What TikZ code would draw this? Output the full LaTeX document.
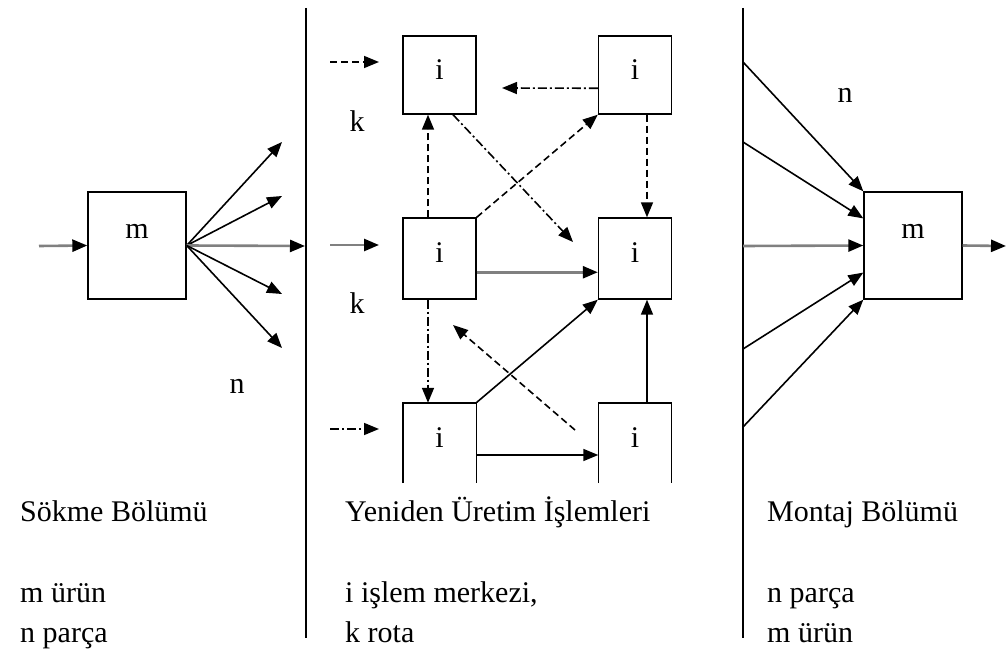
\documentclass[tikz,border=0pt]{standalone}
\usepackage{fontspec}
\setmainfont{Liberation Serif}
\usetikzlibrary{arrows.meta,calc}
\newcommand{\lab}[1]{\fontsize{30}{32}\selectfont #1}
\newcommand{\btxt}[1]{\fontsize{30}{32}\selectfont #1}
\begin{document}
\begin{tikzpicture}[x=1pt,y=-1pt,
  boxm/.style={draw,line width=1.4pt,minimum width=98pt,minimum height=107pt,inner sep=0pt},
  boxi/.style={draw,line width=1.4pt,minimum width=73pt,minimum height=78pt,inner sep=0pt},
  boxo/.style={minimum width=73pt,minimum height=80pt,inner sep=0pt},
  labl/.style={anchor=base,inner sep=0pt},
  txt/.style={anchor=base west,inner sep=0pt},
  conn/.style={line width=1.6pt,-{Triangle[length=15pt,width=12pt]}},
  grey/.style={draw=black!50,line width=2.6pt,-{Triangle[length=15pt,width=12pt,color=black]}},
  dsh/.style={dash pattern=on 7pt off 4pt},
  dshdot/.style={dash pattern=on 9pt off 3pt on 2pt off 3pt},
  divider/.style={line width=1.4pt}
]
\useasboundingbox (0,0) rectangle (1006,652);

% dividers
\coordinate (d1t) at (306,8); \coordinate (d1b) at (306,638);
\coordinate (d2t) at (743,8); \coordinate (d2b) at (743,638);
\draw[divider] (d1t) -- (d1b);
\draw[divider] (d2t) -- (d2b);

% ---------- left section ----------
\node[boxm] (lm) at (137,245.5) {};
\node[labl] (lmlab) at (137,239) {\lab{m}};
\coordinate (lin) at (39,246);
\draw[grey] (lin) -- (lm.west);
\coordinate (f1) at (282,142);
\coordinate (f2) at (282,196);
\coordinate (f3) at (305,246);
\coordinate (f4) at (282,294);
\coordinate (f5) at (282,348);
\draw[conn] (lm.east) -- (f1);
\draw[conn] (lm.east) -- (f2);
\draw[grey] (lm.east) -- (f3);
\draw[conn] (lm.east) -- (f4);
\draw[conn] (lm.east) -- (f5);
\node[labl] (ln) at (237,393) {\lab{n}};

% ---------- middle section ----------
\node[boxi] (tl) at (439.5,75) {};
\node[boxi] (tr) at (635,75) {};
\node[boxi,minimum height=81pt] (ml) at (439.5,258.5) {};
\node[boxi,minimum height=81pt] (mr) at (635,258.5) {};
\node[boxo] (bl) at (439.5,443) {};
\node[boxo] (br) at (635,443) {};
\draw[line width=1.4pt] (bl.south west) -- (bl.north west) -- (bl.north east) -- (bl.south east);
\draw[line width=1.4pt] (br.south west) -- (br.north west) -- (br.north east) -- (br.south east);

\node[labl] (tllab) at (439.5,80) {\lab{i}};
\node[labl] (trlab) at (635,80) {\lab{i}};
\node[labl] (mllab) at (439.5,263) {\lab{i}};
\node[labl] (mrlab) at (635,263) {\lab{i}};
\node[labl] (bllab) at (439.5,447) {\lab{i}};
\node[labl] (brlab) at (635,447) {\lab{i}};
\node[labl] (k1) at (357,132) {\lab{k}};
\node[labl] (k2) at (357,313) {\lab{k}};

% inputs
\coordinate (in1s) at (330,62);  \coordinate (in1e) at (379,62);
\coordinate (in2s) at (330,245); \coordinate (in2e) at (379,245);
\coordinate (in3s) at (330,429); \coordinate (in3e) at (379,429);
\draw[conn,dsh] (in1s) -- (in1e);
\draw[grey] (in2s) -- (in2e);
\draw[conn,dshdot] (in3s) -- (in3e);

% internal connectors
\coordinate (trtl) at (502,88);
\draw[conn,dshdot] ($(tr.north west)!0.667!(tr.south west)$) -- (trtl);
\draw[conn,dsh] ([xshift=-11.5pt]ml.north) -- ([xshift=-11.5pt]tl.south);
\draw[conn,dsh] (ml.north east) -- (tr.south west);
\coordinate (tlmr) at (573,242);
\draw[conn,dshdot] ([xshift=13.5pt]tl.south) -- (tlmr);
\draw[conn,dsh] ([xshift=12pt]tr.south) -- ([xshift=12pt]mr.north);
\draw[grey] ($(ml.north east)!0.667!(ml.south east)$) -- ($(mr.north west)!0.667!(mr.south west)$);
\draw[conn,dshdot] ([xshift=-11.5pt]ml.south) -- ([xshift=-11.5pt]bl.north);
\draw[conn] (bl.north east) -- (mr.south west);
\coordinate (brs) at (575,430); \coordinate (bre) at (453,325);
\draw[conn,dsh] (brs) -- (bre);
\draw[conn] ([xshift=12pt]br.north) -- ([xshift=12pt]mr.south);
\coordinate (blr) at (476,455); \coordinate (brl) at (598,455);
\draw[conn] (bl.east |- blr) -- (br.west |- brl);

% ---------- right section ----------
\node[boxm] (rm) at (913,245.5) {};
\node[labl] (rmlab) at (913,239) {\lab{m}};
\node[labl] (rn) at (845,103) {\lab{n}};
\coordinate (r1) at (743,62);
\coordinate (r2) at (743,142);
\coordinate (r3) at (743,246);
\coordinate (r4) at (743,349);
\coordinate (r5) at (743,427);
\draw[conn] (r1) -- (rm.north west);
\draw[conn] (r2) -- ($(rm.north west)!0.25!(rm.south west)$);
\draw[grey] (r3) -- (rm.west);
\draw[conn] (r4) -- ($(rm.north west)!0.75!(rm.south west)$);
\draw[conn] (r5) -- (rm.south west);
\coordinate (rout) at (1006,246);
\draw[grey] (rm.east) -- (rout);

% ---------- bottom texts ----------
\node[txt] (t1) at (20,521) {\btxt{Sökme Bölümü}};
\node[txt] (t2) at (20,602) {\btxt{m ürün}};
\node[txt] (t3) at (20,642) {\btxt{n parça}};
\node[txt] (t4) at (345,521) {\btxt{Yeniden Üretim İşlemleri}};
\node[txt] (t5) at (345,602) {\btxt{i işlem merkezi,}};
\node[txt] (t6) at (345,642) {\btxt{k rota}};
\node[txt] (t7) at (767,521) {\btxt{Montaj Bölümü}};
\node[txt] (t8) at (767,602) {\btxt{n parça}};
\node[txt] (t9) at (767,642) {\btxt{m ürün}};
\end{tikzpicture}
\end{document}
